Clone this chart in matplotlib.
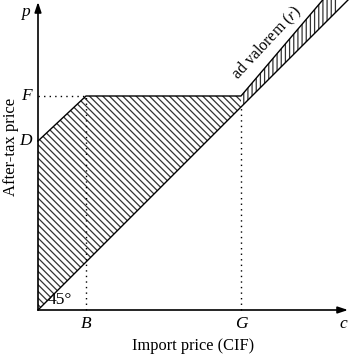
import numpy as np
import matplotlib
matplotlib.use("Agg")
import matplotlib.pyplot as plt

# key prices (arbitrary units, origin at axis crossing)
B = 48      # import price where the specific-duty segment meets F
G = 203     # import price where ad valorem takes over
D = 169     # after-tax price at zero import price
F = 214     # price ceiling level
c_end = 300  # right end of the drawing

# upper boundary of the shaded area: D -> F plateau -> ad valorem line
upper_c = [0, B, G, c_end]
upper_p = [D, F, F, 328]
# lower boundary: the 45 degree line p = c
lower_c = [0, 311]
lower_p = [0, 311]

plt.rcParams["font.family"] = ["Liberation Serif", "DejaVu Serif"]
plt.rcParams["mathtext.fontset"] = "stix"
plt.rcParams["hatch.linewidth"] = 0.9

fig = plt.figure(figsize=(3.49, 3.54), dpi=100)
ax = fig.add_axes([0, 0, 1, 1])
ax.set_xlim(-38, 311)
ax.set_ylim(-44, 310)
ax.axis("off")

cc = np.array(upper_c, dtype=float)
up = np.array(upper_p, dtype=float)
low = np.interp(cc, lower_c, lower_p)

# specific-duty part (up to G), diagonal hatching
m = cc <= G
ax.fill(np.concatenate([cc[m], cc[m][::-1]]), np.concatenate([up[m], low[m][::-1]]),
        facecolor="white", edgecolor="#333333", hatch="\\" * 5, linewidth=0)
# ad valorem band (beyond G), near-vertical hatching
m2 = cc >= G
ax.fill(np.concatenate([cc[m2], cc[m2][::-1]]), np.concatenate([up[m2], low[m2][::-1]]),
        facecolor="white", edgecolor="#333333", hatch="|" * 4, linewidth=0)

ax.plot(upper_c, upper_p, color="black", lw=1.0)
ax.plot(lower_c, lower_p, color="black", lw=1.0)

# dotted guides
dots = (0, (1, 3))
ax.plot([0, B], [F, F], color="black", lw=1.0, ls=dots)
ax.plot([B, B], [0, F], color="black", lw=1.0, ls=dots)
ax.plot([G, G], [0, G], color="black", lw=1.0, ls=dots)

# axes with arrows
arrow = dict(arrowstyle="-|>,head_length=0.6,head_width=0.2", color="black", lw=1.2,
             shrinkA=0, shrinkB=0)
ax.annotate("", xy=(310, 0), xytext=(0, 0), arrowprops=arrow)
ax.annotate("", xy=(0, 308), xytext=(0, 0), arrowprops=arrow)

# labels
ax.text(-13, 298, "p", fontsize=12.5, style="italic", ha="center", va="center")
ax.text(-12, F, "F", fontsize=12.5, style="italic", ha="center", va="center")
ax.text(-13, D, "D", fontsize=12.5, style="italic", ha="center", va="center")
ax.text(B, -14, "B", fontsize=12.5, style="italic", ha="center", va="center")
ax.text(G, -14, "G", fontsize=12.5, style="italic", ha="center", va="center")
ax.text(305, -14, "c", fontsize=12.5, style="italic", ha="center", va="center")
ax.text(22, 10, "45°", fontsize=12.5, ha="center", va="center")
ax.text(-27, 163, "After-tax price", fontsize=12, rotation=90, ha="center", va="center")
ax.text(155.5, -36, "Import price (CIF)", fontsize=11.8, ha="center", va="center")
ax.text(229, 267, "ad valorem ($r$)", fontsize=11.5, rotation=47,
        rotation_mode="anchor", ha="center", va="center")

fig.savefig("out.png", dpi=100)
